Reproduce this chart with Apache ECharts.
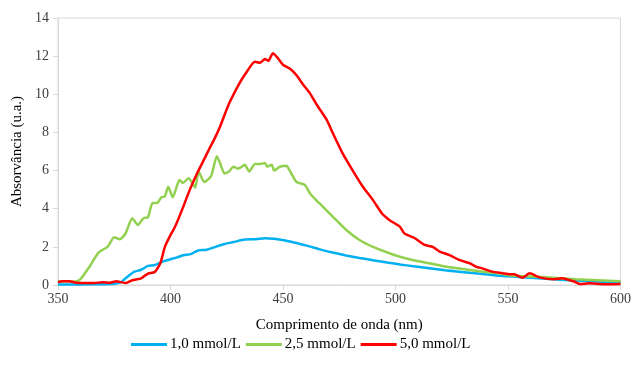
<!DOCTYPE html>
<html>
<head>
<meta charset="utf-8">
<script src="https://cdn.jsdelivr.net/npm/echarts@6/dist/echarts.min.js"></script>
<style>
  html, body { margin: 0; padding: 0; background: #fff; }
  #container { width: 634px; height: 376px; }
</style>
</head>
<body>
<div id="container"></div>
<script>
var dom = document.getElementById("container");
var myChart = echarts.init(dom);

// wavelengths (nm) and absorbance values
var blueNm = [350, 360, 370, 375, 378, 381, 384, 387, 390, 393, 397, 400, 403, 406, 409, 412, 416, 420, 424, 428, 433, 438, 442, 446, 451, 456, 461, 466, 472, 478, 484, 490, 497, 502, 508, 515, 522, 528, 533, 540, 546, 552, 560, 570, 580, 590, 600];
var blueAbs = [0.02, 0.03, 0.04, 0.06, 0.15, 0.45, 0.7, 0.8, 1.0, 1.05, 1.25, 1.35, 1.45, 1.57, 1.62, 1.8, 1.85, 2.0, 2.15, 2.25, 2.38, 2.4, 2.45, 2.42, 2.33, 2.2, 2.05, 1.88, 1.7, 1.55, 1.42, 1.3, 1.17, 1.08, 0.98, 0.88, 0.77, 0.7, 0.64, 0.56, 0.49, 0.44, 0.38, 0.3, 0.23, 0.18, 0.14];

var greenNm = [350, 354, 358, 360, 364, 368, 372, 375, 377.5, 380, 383, 385.5, 388, 390, 392, 394, 396, 397.5, 399, 401, 404, 405.5, 408, 410, 411, 412.5, 415, 418, 420.6, 422, 424, 426, 428, 430, 431, 433, 435, 437.5, 440, 442, 443, 445, 446, 448.6, 451.5, 453, 456, 459.7, 462, 466, 472, 478, 484, 490, 497, 502, 508, 515, 522, 533, 540, 546, 551, 560, 570, 580, 590, 600];
var greenAbs = [0.2, 0.2, 0.18, 0.3, 0.96, 1.7, 2.0, 2.5, 2.4, 2.7, 3.5, 3.15, 3.5, 3.55, 4.3, 4.3, 4.6, 4.65, 5.15, 4.6, 5.5, 5.35, 5.6, 5.3, 5.1, 5.95, 5.4, 5.7, 6.75, 6.4, 5.85, 5.95, 6.2, 6.1, 6.15, 6.3, 5.95, 6.35, 6.35, 6.4, 6.2, 6.3, 6.0, 6.2, 6.25, 6.0, 5.4, 5.25, 4.8, 4.3, 3.6, 2.9, 2.36, 2.0, 1.68, 1.48, 1.3, 1.14, 0.97, 0.79, 0.68, 0.61, 0.5, 0.45, 0.38, 0.3, 0.25, 0.2];

var redNm = [350, 352, 355, 358, 362, 366, 370, 373, 376, 378, 380, 383, 387, 390, 393, 395.5, 397.5, 399.7, 402, 405, 408.6, 412, 415, 417.5, 419.7, 422, 426, 431, 434, 437.5, 439.7, 442, 443.5, 445.5, 447.7, 450, 453, 456, 459, 462, 465, 469.5, 472, 476.5, 481, 485.5, 490, 494, 497.4, 502, 504, 508.6, 513, 516.5, 519.6, 524, 528.5, 533, 536, 538.6, 543, 547.6, 550.7, 552.8, 556.5, 559.6, 564, 570.7, 574, 579.6, 582, 586, 593, 600];
var redAbs = [0.15, 0.2, 0.2, 0.12, 0.1, 0.1, 0.15, 0.12, 0.2, 0.15, 0.1, 0.25, 0.35, 0.6, 0.68, 1.15, 2.0, 2.55, 3.05, 3.9, 5.0, 5.9, 6.6, 7.2, 7.7, 8.3, 9.5, 10.65, 11.2, 11.7, 11.65, 11.85, 11.75, 12.15, 11.9, 11.55, 11.35, 11.0, 10.5, 10.05, 9.45, 8.65, 8.0, 6.9, 6.0, 5.15, 4.45, 3.75, 3.4, 3.05, 2.7, 2.45, 2.1, 2.0, 1.75, 1.57, 1.3, 1.14, 0.95, 0.87, 0.7, 0.62, 0.56, 0.56, 0.38, 0.61, 0.4, 0.3, 0.35, 0.17, 0.05, 0.09, 0.04, 0.05];

var seriesNames = ['1,0 mmol/L', '2,5 mmol/L', '5,0 mmol/L'];
var seriesColors = ['#00b0f0', '#92d050', '#ff0000'];

function pairs(xs, ys) {
    var out = [];
    for (var i = 0; i < xs.length; i++) out.push([xs[i], ys[i]]);
    return out;
}

var serif = '"Liberation Serif", "Times New Roman", serif';
var seriesData = [pairs(blueNm, blueAbs), pairs(greenNm, greenAbs), pairs(redNm, redAbs)];

var seriesList = seriesData.map(function (d, i) {
    return {
        type: 'line',
        name: seriesNames[i],
        data: d,
        showSymbol: false,
        smooth: 0.2,
        lineStyle: { color: seriesColors[i], width: 2.5 },
        itemStyle: { color: seriesColors[i] },
        animation: false
    };
});

var option = {
    animation: false,
    grid: {
        left: 58, right: 13, top: 18, bottom: 91,
        show: true, borderColor: '#d9d9d9', borderWidth: 1
    },
    legend: {
        bottom: 19,
        left: 126,
        itemWidth: 36,
        itemHeight: 3,
        itemGap: 5,
        icon: 'rect',
        textStyle: { fontFamily: serif, fontSize: 15, color: '#000', padding: [0, 0, 0, -2] },
        data: seriesNames
    },
    xAxis: {
        type: 'value',
        min: 350, max: 600, interval: 50,
        name: 'Comprimento de onda (nm)',
        nameLocation: 'middle',
        nameGap: 33,
        nameTextStyle: { fontFamily: serif, fontSize: 15, color: '#000' },
        axisLine: { lineStyle: { color: '#d9d9d9' } },
        axisTick: { show: true, length: 5, lineStyle: { color: '#d9d9d9' } },
        axisLabel: { fontFamily: serif, fontSize: 14, color: '#404040', margin: 7 },
        splitLine: { show: false }
    },
    yAxis: {
        type: 'value',
        min: 0, max: 14, interval: 2,
        name: 'Absorvância (u.a.)',
        nameLocation: 'middle',
        nameGap: 33,
        nameTextStyle: { fontFamily: serif, fontSize: 15, color: '#000' },
        axisLine: { show: true, lineStyle: { color: '#d9d9d9' } },
        axisTick: { show: true, length: 5, lineStyle: { color: '#d9d9d9' } },
        axisLabel: { fontFamily: serif, fontSize: 14, color: '#404040', margin: 9 },
        splitLine: { show: false }
    },
    series: seriesList
};

myChart.setOption(option);
</script>
</body>
</html>
